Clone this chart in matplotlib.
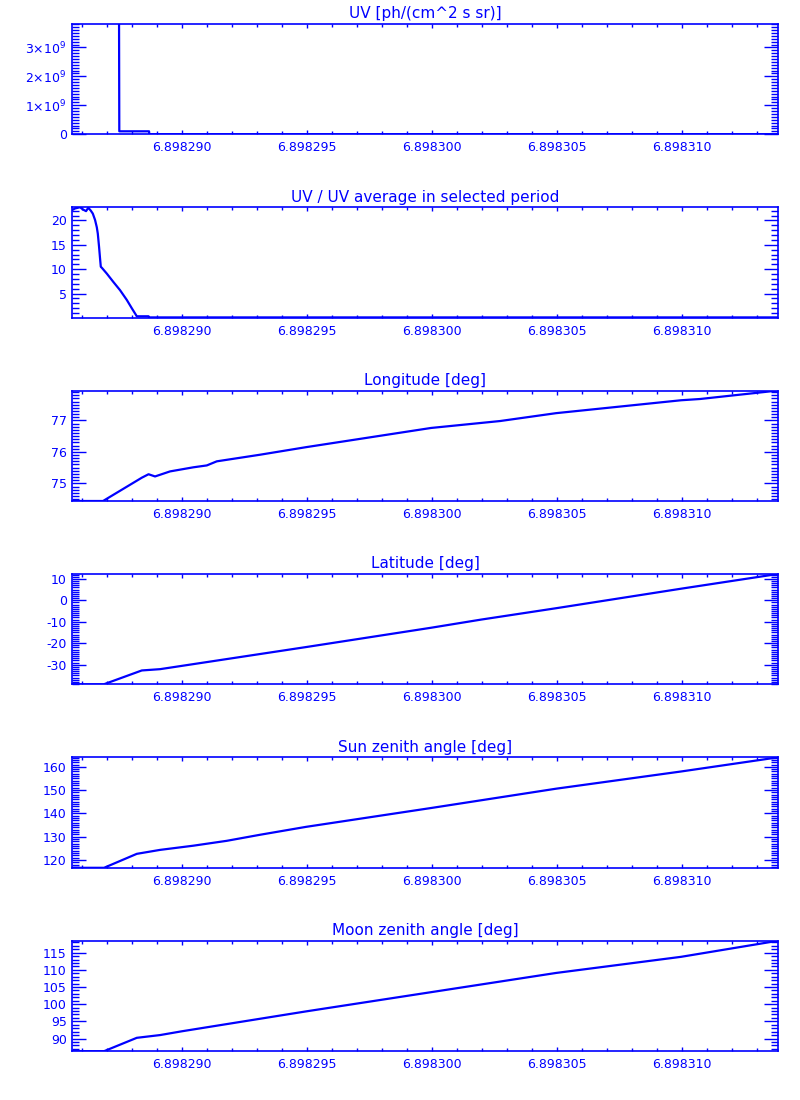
import matplotlib
matplotlib.use('Agg')
import matplotlib.pyplot as plt
from matplotlib import ticker

plt.rcParams['font.family'] = ['DejaVu Sans']
plt.rcParams['mathtext.fontset'] = 'dejavusans'

BLUE = '#0000ff'

# 时间轴 (x)
uv_t = [6.89828749, 6.89828750, 6.89828869, 6.89828870, 6.89831386]
uv_val = [3.82e9, 0.10e9, 0.10e9, 0.0, 0.0]

ratio_t = [6.89828564, 6.89828573, 6.89828593, 6.89828606, 6.89828617, 6.89828626,
           6.89828636, 6.89828644, 6.89828653, 6.89828660, 6.89828664, 6.89828669,
           6.89828673, 6.89828676, 6.89828680, 6.89828700, 6.89828726, 6.89828753,
           6.89828780, 6.89828800, 6.89828820, 6.89828867, 6.89828869, 6.89831386]
ratio_val = [22.2, 22.45, 22.7, 22.2, 21.9, 22.6, 22.0, 21.4, 20.1, 18.6, 17.3, 14.6,
             12.2, 10.5, 10.3, 9.1, 7.4, 5.7, 3.7, 2.0, 0.35, 0.35, 0.12, 0.12]

lon_t = [6.89828564, 6.89828685, 6.89828840, 6.89828867, 6.89828893, 6.89828953,
         6.89829046, 6.89829100, 6.89829140, 6.89829313, 6.89829497, 6.89829997,
         6.89830273, 6.89830497, 6.89830997, 6.89831073, 6.89831386]
lon_val = [74.44, 74.44, 75.18, 75.29, 75.22, 75.38, 75.51, 75.57, 75.70, 75.91,
           76.15, 76.76, 76.98, 77.23, 77.64, 77.68, 77.95]

lat_t = [6.89828564, 6.89828687, 6.89828840, 6.89828913, 6.89829497, 6.89829997,
         6.89830197, 6.89830497, 6.89830997, 6.89831386]
lat_val = [-39.2, -39.2, -32.7, -32.1, -21.8, -12.8, -9.0, -3.7, 5.4, 12.3]

sun_t = [6.89828564, 6.89828689, 6.89828820, 6.89828913, 6.89829046, 6.89829180,
         6.89829313, 6.89829497, 6.89829997, 6.89830497, 6.89830997, 6.89831386]
sun_val = [116.6, 116.6, 122.6, 124.3, 126.1, 128.2, 130.8, 134.2, 142.3, 150.6,
           158.0, 164.1]

moon_t = [6.89828564, 6.89828689, 6.89828820, 6.89828913, 6.89829000, 6.89829497,
          6.89829997, 6.89830497, 6.89830997, 6.89831386]
moon_val = [86.3, 86.3, 90.2, 91.0, 92.1, 97.9, 103.5, 109.1, 113.8, 118.5]

titles = ['UV [ph/(cm^2 s sr)]', 'UV / UV average in selected period',
          'Longitude [deg]', 'Latitude [deg]', 'Sun zenith angle [deg]',
          'Moon zenith angle [deg]']

x_min, x_max = 6.89828562, 6.89831386

# (数据, y范围, 主刻度, 次刻度)
panels = [
    (uv_t, uv_val, (0, 3.82e9), 1e9, 1e8),
    (ratio_t, ratio_val, (0.08, 22.73), 5, 1),
    (lon_t, lon_val, (74.44, 77.95), 1, 0.1),
    (lat_t, lat_val, (-39.2, 12.3), 10, 1),
    (sun_t, sun_val, (116.6, 164.1), 10, 1),
    (moon_t, moon_val, (86.3, 118.5), 5, 1),
]

fig = plt.figure(figsize=(8, 11), dpi=100)

for i, (t, v, ylim, major, minor) in enumerate(panels):
    top = 23.7 + i * 183.4
    ax = fig.add_axes([72.3 / 800, 1 - (top + 110.5) / 1100, 706 / 800, 110.5 / 1100])
    ax.plot(t, v, color=BLUE, lw=1.6)
    ax.set_xlim(x_min, x_max)
    ax.set_ylim(*ylim)
    ax.set_title(titles[i], color=BLUE, fontsize=11, pad=4)

    ax.xaxis.set_major_locator(ticker.MultipleLocator(5e-6))
    ax.xaxis.set_minor_locator(ticker.MultipleLocator(1e-6))
    ax.xaxis.set_major_formatter(ticker.FormatStrFormatter('%.6f'))
    ax.yaxis.set_major_locator(ticker.MultipleLocator(major))
    ax.yaxis.set_minor_locator(ticker.MultipleLocator(minor))
    if i == 0:
        ax.yaxis.set_major_formatter(ticker.FuncFormatter(
            lambda y, p: '0' if y == 0 else r'%d$\times$10$^9$' % round(y / 1e9)))
    else:
        ax.yaxis.set_major_formatter(ticker.FormatStrFormatter('%g'))

    for s in ax.spines.values():
        s.set_color(BLUE)
        s.set_linewidth(1.2)
    ax.tick_params(axis='both', which='both', direction='in', colors=BLUE,
                   labelsize=9, top=True, right=True, width=1.0)
    ax.tick_params(axis='y', which='major', length=10, pad=4)
    ax.tick_params(axis='y', which='minor', length=5)
    ax.tick_params(axis='x', which='major', length=3, pad=5)
    ax.tick_params(axis='x', which='minor', length=2.5)

fig.savefig('out.png', dpi=100, facecolor='white')
